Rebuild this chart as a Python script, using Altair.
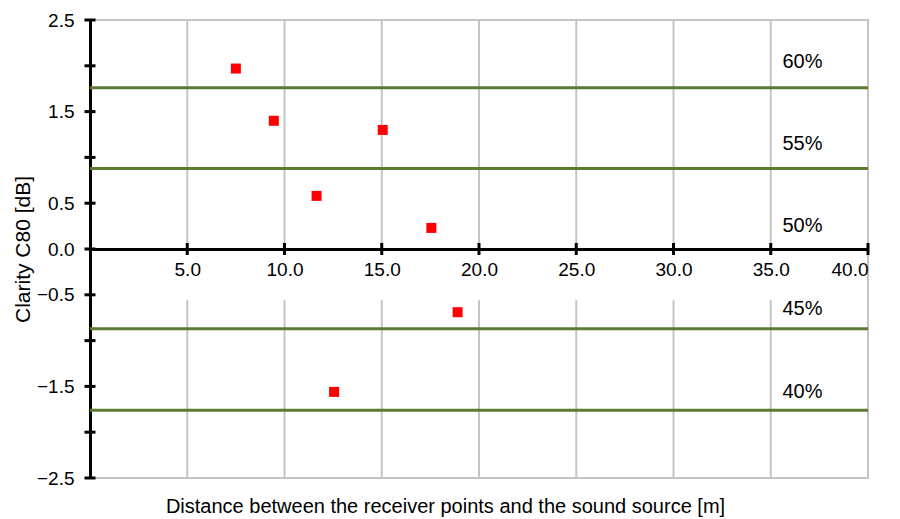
import altair as alt
import pandas as pd

# ---- data ----
dist = [7.5, 9.45, 11.65, 15.05, 17.55, 18.9, 12.55]
clarity = [1.97, 1.40, 0.58, 1.30, 0.23, -0.69, -1.56]

threshold_y = [1.76, 0.88, -0.87, -1.76]

pct_labels = ["60%", "55%", "50%", "45%", "40%"]
pct_x = [35.6, 35.6, 35.6, 35.6, 35.6]
pct_y = [2.04, 1.15, 0.25, -0.65, -1.56]

x_ticks = [5, 10, 15, 20, 25, 30, 35, 40]
y_ticks = [2.5, 2.0, 1.5, 1.0, 0.5, 0.0, -0.5, -1.0, -1.5, -2.0, -2.5]
y_labels = [2.5, 1.5, 0.5, 0.0, -0.5, -1.5, -2.5]

grid_top = [2.5] * len(x_ticks)
grid_gap_low = [-0.56] * len(x_ticks)
grid_bottom = [-2.5] * len(x_ticks)

FONT = "Liberation Sans"

pts = pd.DataFrame({"x": dist, "y": clarity})
thr = pd.DataFrame({"y": threshold_y, "x0": [0] * len(threshold_y), "x1": [40] * len(threshold_y)})
pct = pd.DataFrame({"label": pct_labels, "x": pct_x, "y": pct_y})
grid = pd.DataFrame({"x": x_ticks, "top": grid_top, "low": grid_gap_low,
                     "bottom": grid_bottom, "zero": [0.0] * len(x_ticks)})
xt = pd.DataFrame({"x": x_ticks, "y": [0.0] * len(x_ticks)})
yt = pd.DataFrame({"y": y_ticks, "x": [0.0] * len(y_ticks)})

xscale = alt.Scale(domain=[0, 40], nice=False, zero=False)
yscale = alt.Scale(domain=[-2.5, 2.5], nice=False, zero=False)

grid_color = "#c4c4c4"

XTITLE = "Distance between the receiver points and the sound source [m]"
YTITLE = "Clarity C80 [dB]"

xaxis = alt.Axis(
    values=x_ticks,
    format=".1f",
    offset=-229,
    grid=False,
    ticks=False,
    tickSize=0,
    domainColor="black",
    domainWidth=3,
    labelFont=FONT,
    labelFontSize=19,
    labelColor="black",
    labelPadding=11,
    title=XTITLE,
    titleFont=FONT,
    titleFontSize=20,
    titleFontWeight="normal",
    titleColor="black",
    titleX=355,
    titleY=257,
    titleBaseline="middle",
)
yaxis = alt.Axis(
    values=y_labels,
    format=".1f",
    grid=False,
    ticks=False,
    tickSize=0,
    domainColor="black",
    domainWidth=3,
    labelFont=FONT,
    labelFontSize=19,
    labelColor="black",
    labelPadding=16,
    title=YTITLE,
    titleFont=FONT,
    titleFontSize=21,
    titleFontWeight="normal",
    titleColor="black",
    titleX=-57,
)


def X(field):
    return alt.X(field, scale=xscale, axis=xaxis, title=XTITLE)


def Y(field):
    return alt.Y(field, scale=yscale, axis=yaxis, title=YTITLE)


grid_up = alt.Chart(grid).mark_rule(color=grid_color, strokeWidth=2).encode(
    x=X("x:Q"), y=Y("zero:Q"), y2="top:Q",
)
grid_dn = alt.Chart(grid).mark_rule(color=grid_color, strokeWidth=2).encode(
    x=X("x:Q"), y=Y("low:Q"), y2="bottom:Q",
)

green = alt.Chart(thr).mark_rule(color="#5d7a33", strokeWidth=3).encode(
    x=X("x0:Q"), x2="x1:Q", y=Y("y:Q"),
)

points = alt.Chart(pts).mark_square(size=100, color="#ff0000", opacity=1).encode(
    x=X("x:Q"), y=Y("y:Q"),
)

labels = alt.Chart(pct).mark_text(
    align="left", baseline="middle", font=FONT, fontSize=20, color="black"
).encode(
    x=X("x:Q"), y=Y("y:Q"), text="label:N",
)

xticks = alt.Chart(xt).mark_tick(orient="vertical", size=12, thickness=3,
                                 color="black", opacity=1).encode(
    x=X("x:Q"), y=Y("y:Q"),
)
yticks = alt.Chart(yt).mark_tick(orient="horizontal", size=11, thickness=3,
                                 color="black", opacity=1).encode(
    x=X("x:Q"), y=Y("y:Q"),
)

chart = alt.layer(grid_up, grid_dn, green, labels, points, xticks, yticks).properties(
    width=778,
    height=458,
    autosize=alt.AutoSizeParams(type="none"),
    padding={"left": 90, "top": 20, "right": 32, "bottom": 41},
    background="white",
).configure_view(stroke=grid_color, strokeWidth=2)

chart.save("out.html", embed_options={"renderer": "svg", "actions": False})
